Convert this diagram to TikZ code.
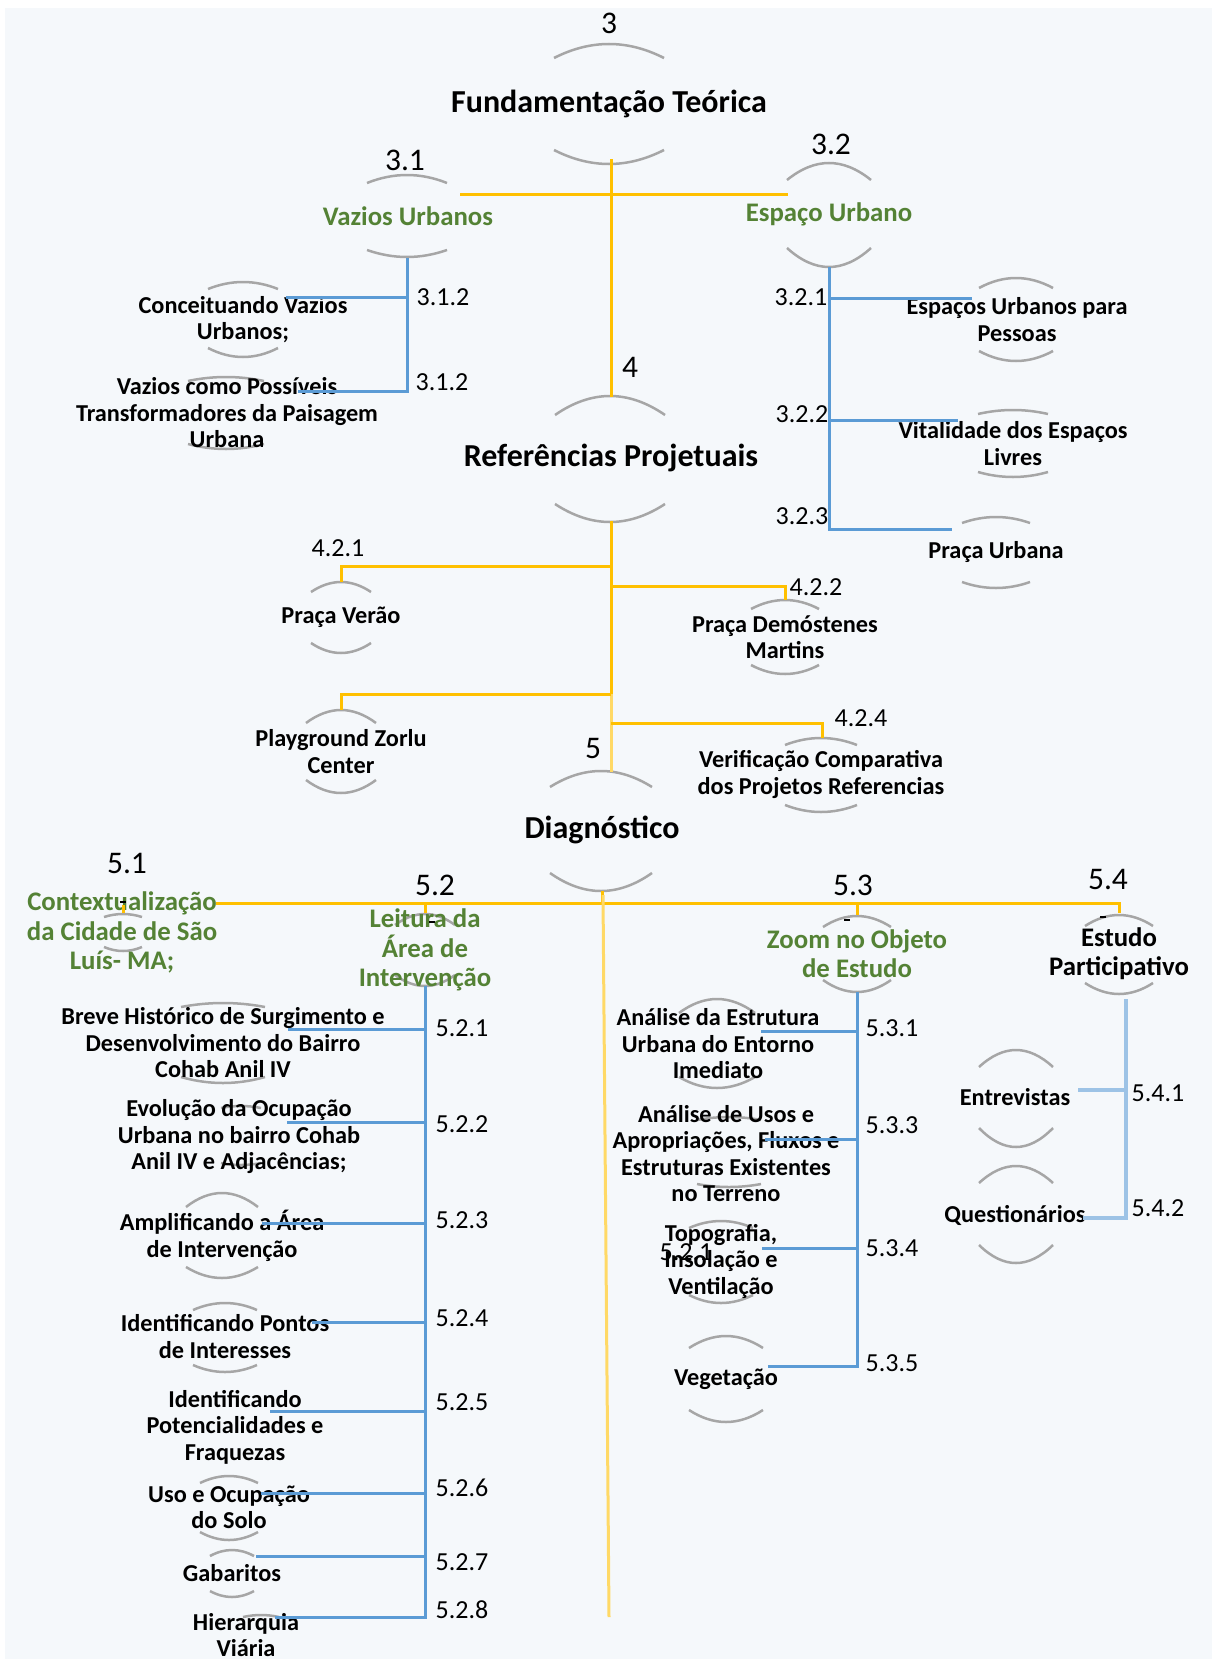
\documentclass[tikz,border=0pt]{standalone}
\usepackage{fontspec}
\setmainfont{Carlito}
\definecolor{bgc}{RGB}{245,248,251}
\definecolor{arcg}{RGB}{166,166,166}
\definecolor{ylw}{RGB}{255,192,0}
\definecolor{ylwl}{RGB}{255,217,102}
\definecolor{blu}{RGB}{91,155,213}
\definecolor{blul}{RGB}{157,195,230}
\definecolor{grn}{RGB}{84,130,53}
\newcommand{\arcpair}[6]{%
  \draw[arcline] ({#1-#2},#3) .. controls ({#1-#2/3},{#3-4*#4/3}) and ({#1+#2/3},{#3-4*#4/3}) .. ({#1+#2},#3);
  \draw[arcline] ({#1-#2},#5) .. controls ({#1-#2/3},{#5+4*#6/3}) and ({#1+#2/3},{#5+4*#6/3}) .. ({#1+#2},#5);}
\newcommand{\toponly}[4]{%
  \draw[arcline] ({#1-#2},#3) .. controls ({#1-#2/3},{#3-4*#4/3}) and ({#1+#2/3},{#3-4*#4/3}) .. ({#1+#2},#3);}
\begin{document}
\begin{tikzpicture}[x=1pt,y=-1pt,
  headtext/.style={font=\fontsize{32}{36}\selectfont\bfseries, inner sep=0, align=center},
  greenhead/.style={font=\fontsize{26.8}{29.5}\selectfont\bfseries, text=grn, inner sep=0, align=center},
  blackhead/.style={font=\fontsize{26.8}{29.5}\selectfont\bfseries, inner sep=0, align=center},
  itemtext/.style={font=\fontsize{24.3}{26.5}\selectfont\bfseries, inner sep=0, align=center},
  numbig/.style={font=\fontsize{31.5}{32}\selectfont, inner sep=0},
  numsmall/.style={font=\fontsize{26}{27}\selectfont, inner sep=0},
  arcline/.style={draw=arcg, line width=2.5pt},
  yline/.style={draw=ylw, line width=3pt},
  ylline/.style={draw=ylwl, line width=3pt},
  bline/.style={draw=blu, line width=3pt},
  blline/.style={draw=blul, line width=3.5pt},
  tickmark/.style={draw=black, line width=2pt}
]
\useasboundingbox (0,0) rectangle (1212,1659);
\fill[white] (0,0) rectangle (1212,1659);
\fill[bgc] (5,8) rectangle (1212,1659);

% ---------- decorative arcs ----------
\arcpair{609}{55}{58}{14}{150}{14}
\arcpair{407}{40}{183}{8}{250}{7}
\arcpair{829}{42}{180}{17}{248}{19}
\arcpair{243}{35}{289}{7}{348}{9}
\arcpair{226}{38}{381}{4}{444}{5}
\arcpair{1016}{37}{288}{10}{351}{10}
\arcpair{1013}{35}{414}{4}{472}{5}
\arcpair{996}{34}{523}{6}{582}{6}
\arcpair{610}{55}{415}{19}{504}{18}
\arcpair{341}{30}{592}{10}{643}{10}
\arcpair{785}{34}{609}{9}{665}{9}
\arcpair{341}{35}{723}{13}{780}{13}
\arcpair{821}{36}{745}{7}{805}{7}
\arcpair{601}{51}{787}{16}{873}{18}
\arcpair{123}{19}{917}{3}{947}{4}
\arcpair{425}{30}{925}{11}{975}{11}
\arcpair{857}{34}{927}{11}{980}{12}
\arcpair{1119}{34}{926}{11}{983}{11}
\arcpair{223}{42}{1007}{4}{1077}{6}
\arcpair{241}{20}{1108}{2}{1163}{2}
\arcpair{222}{36}{1207}{14}{1267}{11}
\arcpair{225}{32}{1310}{7}{1365}{7}
\arcpair{229}{29}{1483}{7}{1532}{8}
\arcpair{232}{22}{1556}{6}{1591}{6}
\toponly{261}{18}{1617}{2}
\arcpair{717}{38}{1013}{14}{1077}{11}
\arcpair{729}{32}{1120}{3}{1184}{3}
\arcpair{721}{32}{1228}{7}{1295}{8}
\arcpair{726}{37}{1348}{12}{1410}{12}
\arcpair{1016}{37}{1067}{17}{1128}{19}
\arcpair{1016}{37}{1183}{17}{1245}{18}

% ---------- text nodes ----------
\node[headtext] (n3) at (609,104) {Fundamentação Teórica};
\node[greenhead] (n31) at (408,216) {Vazios Urbanos};
\node[greenhead] (n32) at (829,214) {Espaço Urbano};
\node[itemtext] (n311) at (243,319.5) {Conceituando Vazios\\Urbanos;};
\node[itemtext] (n312) at (227,413) {Vazios como Possíveis\\Transformadores da Paisagem\\Urbana};
\node[itemtext] (n321) at (1017,319.5) {Espaços Urbanos para\\Pessoas};
\node[itemtext] (n322) at (1013,443.5) {Vitalidade dos Espaços\\Livres};
\node[itemtext] (n323) at (996,552) {Praça Urbana};
\node[headtext] (n4) at (611,458) {Referências Projetuais};
\node[itemtext] (n421) at (341,617) {Praça Verão};
\node[itemtext] (n422) at (785,637) {Praça Demóstenes\\Martins};
\node[itemtext] (n423) at (341,751.5) {Playground Zorlu\\Center};
\node[itemtext] (n424) at (821,774.5) {Verificação Comparativa\\dos Projetos Referencias};
\node[headtext] (n5) at (602,830) {Diagnóstico};
\node[greenhead] (n51) at (122,932.5) {Contextualização\\da Cidade de São\\Luís- MA;};
\node[greenhead] (n52) at (425,950) {Leitura da\\Área de\\Intervenção};
\node[greenhead] (n53) at (857,953.5) {Zoom no Objeto\\de Estudo};
\node[blackhead] (n54) at (1119,953.5) {Estudo\\Participativo};
\node[itemtext] (n521) at (223,1043) {Breve Histórico de Surgimento e\\Desenvolvimento do Bairro\\Cohab Anil IV};
\node[itemtext] (n522) at (239,1137) {Evolução da Ocupação\\Urbana no bairro Cohab\\Anil IV e Adjacências;};
\node[itemtext] (n523) at (222,1236) {Amplificando a Área\\de Intervenção};
\node[itemtext] (n524) at (225,1336.5) {Identificando Pontos\\de Interesses};
\node[itemtext] (n525) at (235,1427) {Identificando\\Potencialidades e\\Fraquezas};
\node[itemtext] (n526) at (229,1507.5) {Uso e Ocupação\\do Solo};
\node[itemtext] (n527) at (232,1573) {Gabaritos};
\node[itemtext] (n528) at (246,1635) {Hierarquia\\Viária};
\node[itemtext] (n531) at (718,1044) {Análise da Estrutura\\Urbana do Entorno\\Imediato};
\node[itemtext] (n533) at (726,1153.5) {Análise de Usos e\\Apropriações, Fluxos e\\Estruturas Existentes\\no Terreno};
\node[itemtext] (n534) at (721,1261) {Topografia,\\Insolação e\\Ventilação};
\node[itemtext] (n535) at (726,1379) {Vegetação};
\node[itemtext] (n541) at (1015,1097) {Entrevistas};
\node[itemtext] (n542) at (1015,1215) {Questionários};

% ---------- number labels ----------
\node[numbig] (l3) at (609,23) {3};
\node[numbig] (l31) at (405,160) {3.1};
\node[numbig] (l32) at (831,144) {3.2};
\node[numsmall] (l311) at (443,297) {3.1.2};
\node[numsmall] (l312) at (442,382) {3.1.2};
\node[numsmall] (l321) at (801,297) {3.2.1};
\node[numsmall] (l322) at (802,414) {3.2.2};
\node[numsmall] (l323) at (802,516) {3.2.3};
\node[numbig] (l4) at (630,367) {4};
\node[numsmall] (l421) at (338,548) {4.2.1};
\node[numsmall] (l422) at (816,587) {4.2.2};
\node[numsmall] (l424) at (861,718) {4.2.4};
\node[numbig] (l5) at (593,748) {5};
\node[numbig] (l51) at (127,863) {5.1};
\node[numbig] (l52) at (435,885) {5.2};
\node[numbig] (l53) at (853,885) {5.3};
\node[numbig] (l54) at (1108,879) {5.4};
\node[numsmall] (l521) at (462,1028) {5.2.1};
\node[numsmall] (l522) at (462,1124) {5.2.2};
\node[numsmall] (l523) at (462,1220) {5.2.3};
\node[numsmall] (l524) at (462,1318) {5.2.4};
\node[numsmall] (l525) at (462,1402) {5.2.5};
\node[numsmall] (l526) at (462,1488) {5.2.6};
\node[numsmall] (l527) at (462,1562) {5.2.7};
\node[numsmall] (l528) at (462,1610) {5.2.8};
\node[numsmall] (stray) at (686,1252) {5.2.1};
\node[numsmall] (l531) at (892,1028) {5.3.1};
\node[numsmall] (l533) at (892,1125) {5.3.3};
\node[numsmall] (l534) at (892,1248) {5.3.4};
\node[numsmall] (l535) at (892,1363) {5.3.5};
\node[numsmall] (l541) at (1158,1093) {5.4.1};
\node[numsmall] (l542) at (1158,1208) {5.4.2};

% ---------- junction coordinates ----------
\coordinate (t3) at (611,159);
\coordinate (t4top) at (611,397);
\coordinate (h31) at (460,194);
\coordinate (h32) at (788,194);
\coordinate (b31a) at (407,258);
\coordinate (b31b) at (407,297);
\coordinate (b31c) at (407,391);
\coordinate (e311) at (286,297);
\coordinate (e312) at (298,391);
\coordinate (b32a) at (829,267);
\coordinate (b32b) at (829,298);
\coordinate (b32c) at (829,420);
\coordinate (b32d) at (829,529);
\coordinate (e321) at (972,298);
\coordinate (e322) at (958,420);
\coordinate (e323) at (952,529);
\coordinate (t4) at (611,521);
\coordinate (j421) at (611,566);
\coordinate (j422) at (611,586);
\coordinate (j423) at (611,694);
\coordinate (j424) at (611,723);
\coordinate (t5top) at (611,772);
\coordinate (c421) at (341,566);
\coordinate (e421) at (341,582);
\coordinate (c422) at (785,586);
\coordinate (e422) at (785,600);
\coordinate (c423) at (341,694);
\coordinate (e423) at (341,710);
\coordinate (c424) at (822,723);
\coordinate (e424) at (822,738);
\coordinate (t5) at (602,891);
\coordinate (j5) at (602,903);
\coordinate (h5l) at (216,903);
\coordinate (h5r) at (1119,903);
\coordinate (d51a) at (123,905);
\coordinate (d51b) at (123,913);
\coordinate (j52) at (425,903);
\coordinate (d52) at (425,913);
\coordinate (j53) at (857,903);
\coordinate (d53) at (857,915);
\coordinate (d54) at (1119,913);
\coordinate (long1) at (603,895);
\coordinate (long2) at (609,1617);
% 5.2 branch
\coordinate (v52a) at (425,986);
\coordinate (v52b) at (425,1617);
\coordinate (k521) at (425,1029) ; \coordinate (f521) at (288,1029);
\coordinate (k522) at (425,1122) ; \coordinate (f522) at (287,1122);
\coordinate (k523) at (425,1223) ; \coordinate (f523) at (262,1223);
\coordinate (k524) at (425,1322) ; \coordinate (f524) at (312,1322);
\coordinate (k525) at (425,1411) ; \coordinate (f525) at (270,1411);
\coordinate (k526) at (425,1493) ; \coordinate (f526) at (261,1493);
\coordinate (k527) at (425,1556) ; \coordinate (f527) at (256,1556);
\coordinate (f528) at (275,1617);
% 5.3 branch
\coordinate (v53a) at (857,992);
\coordinate (v53b) at (857,1366);
\coordinate (k531) at (857,1031) ; \coordinate (f531) at (761,1031);
\coordinate (k533) at (857,1139) ; \coordinate (f533) at (765,1139);
\coordinate (k534) at (857,1248) ; \coordinate (f534) at (762,1248);
\coordinate (f535) at (768,1366);
% 5.4 branch
\coordinate (v54a) at (1126,999);
\coordinate (v54b) at (1126,1218);
\coordinate (k541) at (1126,1090) ; \coordinate (f541) at (1078,1090);
\coordinate (f542) at (1083,1218);

% ---------- connectors ----------
\draw[yline] (t3) -- (t4top);
\draw[yline] (h31) -- (h32);
\draw[bline] (b31a) -- (b31c) -- (e312);
\draw[bline] (b31b) -- (e311);
\draw[bline] (b32a) -- (b32d) -- (e323);
\draw[bline] (b32b) -- (e321);
\draw[bline] (b32c) -- (e322);
\draw[yline] (t4) -- (j423);
\draw[ylline] (j423) -- (t5top);
\draw[yline] (j421) -- (c421) -- (e421);
\draw[yline] (j422) -- (c422) -- (e422);
\draw[yline] (j423) -- (c423) -- (e423);
\draw[yline] (j424) -- (c424) -- (e424);
\draw[yline] (t5) -- (j5);
\draw[yline] (h5l) -- (h5r) -- (d54);
\draw[yline] (d51a) -- (d51b);
\draw[yline] (j52) -- (d52);
\draw[yline] (j53) -- (d53);
\draw[ylline] (long1) -- (long2);
\draw[bline] (v52a) -- (v52b) -- (f528);
\draw[bline] (k521) -- (f521);
\draw[bline] (k522) -- (f522);
\draw[bline] (k523) -- (f523);
\draw[bline] (k524) -- (f524);
\draw[bline] (k525) -- (f525);
\draw[bline] (k526) -- (f526);
\draw[bline] (k527) -- (f527);
\draw[bline] (v53a) -- (v53b) -- (f535);
\draw[bline] (k531) -- (f531);
\draw[bline] (k533) -- (f533);
\draw[bline] (k534) -- (f534);
\draw[blline] (v54a) -- (v54b) -- (f542);
\draw[blline] (k541) -- (f541);

% small black marks
\draw[tickmark] (120,902) -- (126,902);
\draw[tickmark] (429,922) -- (435,922);
\draw[tickmark] (844,920) -- (850,920);
\draw[tickmark] (1100,917) -- (1106,917);
\end{tikzpicture}
\end{document}
